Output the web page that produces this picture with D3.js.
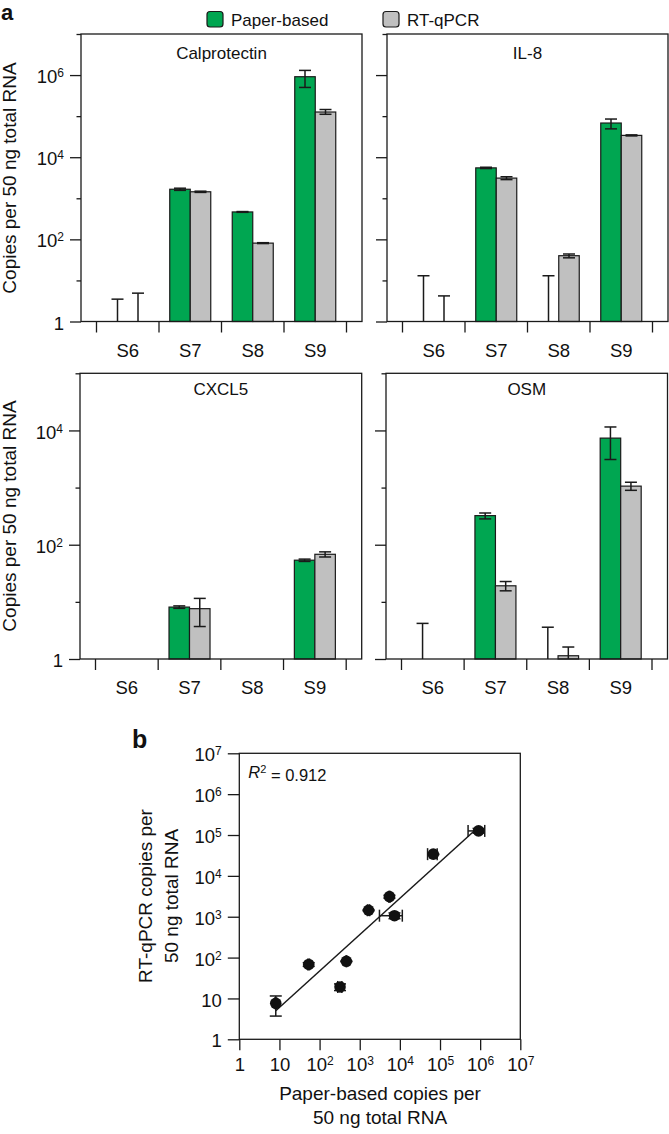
<!DOCTYPE html>
<html><head><meta charset="utf-8">
<script src="https://cdn.jsdelivr.net/npm/d3@7"></script>
<style>
body{margin:0;background:#fff}
svg{display:block}
text{font-family:"Liberation Sans",Arial,Helvetica,sans-serif;fill:#111}
</style>
</head><body>
<svg id="c" width="669" height="1134"></svg>
<script>
// ---------- DATA ----------
const categories = ["S6", "S7", "S8", "S9"];
const series = ["Paper-based", "RT-qPCR"];
const seriesColors = ["#00a651", "#c0c0c0"];

// mean copies (0 = not detected), lower / upper error limits
const calprotectinPaper   = [0, 1660, 465, 912000];
const calprotectinPaperLo = [0, 1560, 455, 500000];
const calprotectinPaperHi = [3.5, 1760, 475, 1300000];
const calprotectinQpcr    = [0, 1440, 81, 126000];
const calprotectinQpcrLo  = [0, 1390, 79, 111000];
const calprotectinQpcrHi  = [4.9, 1490, 83, 145000];

const il8Paper   = [0, 5500, 0, 68000];
const il8PaperLo = [0, 5300, 0, 49000];
const il8PaperHi = [13, 5700, 13, 85000];
const il8Qpcr    = [0, 3100, 40, 34000];
const il8QpcrLo  = [0, 2850, 35.5, 33000];
const il8QpcrHi  = [4.2, 3350, 44, 35000];

const cxcl5Paper   = [0, 8.1, 0, 53.6];
const cxcl5PaperLo = [0, 7.7, 0, 51];
const cxcl5PaperHi = [0, 8.5, 0, 56];
const cxcl5Qpcr    = [0, 7.6, 0, 68];
const cxcl5QpcrLo  = [0, 3.7, 0, 61];
const cxcl5QpcrHi  = [0, 11.5, 0, 75];

const osmPaper   = [0, 323, 0, 7340];
const osmPaperLo = [0, 283, 0, 3100];
const osmPaperHi = [4.2, 359, 3.6, 11500];
const osmQpcr    = [0, 19.1, 1.14, 1060];
const osmQpcrLo  = [0, 15.6, 0, 895];
const osmQpcrHi  = [0, 22.7, 1.62, 1240];

const topTicks = [1, 10, 100, 1e3, 1e4, 1e5, 1e6, 1e7];
const topMajor = [1, 100, 1e4, 1e6];
const bottomTicks = [1, 10, 100, 1e3, 1e4, 1e5];
const bottomMajor = [1, 100, 1e4];
const scatterTicks = [1, 10, 100, 1e3, 1e4, 1e5, 1e6, 1e7];
const r2Text = "0.912";

// ---------- DRAW ----------
const svg = d3.select("#c");
const INK = "#1a1a1a";

function fmtLog(sel) {
  sel.each(function (d) {
    const t = d3.select(this);
    t.text(null);
    const e = Math.round(Math.log10(d));
    if (e === 0) t.text("1");
    else if (e === 1) t.text("10");
    else {
      t.append("tspan").text("10");
      t.append("tspan").attr("dy", "-0.5em").attr("font-size", "12px").text(e);
    }
  });
}

function styleAxis(ax) {
  ax.select(".domain").remove();
  ax.attr("font-family", null).attr("font-size", null).attr("color", INK);
  ax.selectAll(".tick line").attr("stroke-width", 1.3);
  ax.selectAll(".tick text").attr("font-size", "18.5px").attr("fill", "#111");
}

function barPanel(cfg) {
  const g = svg.append("g").attr("transform", `translate(${cfg.left},${cfg.top})`);
  const w = cfg.w, h = cfg.h;
  const y = d3.scaleLog().domain([1, cfg.yMax]).range([h, 0]);
  const x = d3.scaleBand().domain(categories).range([15.5, w - 15.5]);
  const barW = 20.5;
  const sub = d3.scaleBand().domain(series)
    .range([x.bandwidth() / 2 - barW, x.bandwidth() / 2 + barW]);

  const axMinor = g.append("g").call(d3.axisLeft(y).tickValues(cfg.ticks.filter(v => !cfg.major.includes(v)))
    .tickSize(4.5).tickSizeOuter(0).tickFormat(""));
  styleAxis(axMinor);
  const axMajor = g.append("g").call(d3.axisLeft(y).tickValues(cfg.major)
    .tickSize(11).tickSizeOuter(0).tickPadding(6).tickFormat(d => d));
  styleAxis(axMajor);
  axMajor.selectAll(".tick text").attr("dy", "0.41em");
  if (cfg.labels) axMajor.selectAll(".tick text").call(fmtLog);
  else axMajor.selectAll(".tick text").remove();

  const axX = g.append("g").attr("transform", `translate(0,${h})`)
    .call(d3.axisBottom(x).tickSize(0).tickPadding(22).tickSizeOuter(0));
  styleAxis(axX);
  const bounds = categories.map(c => x(c)).concat([x(categories[categories.length - 1]) + x.bandwidth()]);
  g.selectAll(".bnd").data(bounds).join("line")
    .attr("x1", d => d).attr("x2", d => d).attr("y1", h).attr("y2", h + 11)
    .attr("stroke", INK).attr("stroke-width", 1.3);

  const items = [];
  categories.forEach((c, i) => {
    series.forEach((s, k) => {
      const src = cfg.data[k];
      items.push({ c, s, k, mean: src.mean[i], lo: src.lo[i], hi: src.hi[i] });
    });
  });
  g.selectAll(".bar").data(items.filter(d => d.mean > 1)).join("rect")
    .attr("x", d => x(d.c) + sub(d.s))
    .attr("width", sub.bandwidth())
    .attr("y", d => y(d.mean))
    .attr("height", d => h - y(d.mean))
    .attr("fill", d => seriesColors[d.k])
    .attr("stroke", INK).attr("stroke-width", 1.2);

  const cap = 6;
  const errs = items.filter(d => d.hi > 1);
  const eg = g.append("g").attr("stroke", INK).attr("stroke-width", 1.5).attr("fill", "none");
  errs.forEach(d => {
    const cx = x(d.c) + sub(d.s) + sub.bandwidth() / 2;
    const yl = y(Math.max(d.lo, 1)), yh = y(d.hi);
    eg.append("line").attr("x1", cx).attr("x2", cx).attr("y1", yl).attr("y2", yh);
    eg.append("line").attr("x1", cx - cap).attr("x2", cx + cap).attr("y1", yh).attr("y2", yh);
    if (d.lo >= 1) eg.append("line").attr("x1", cx - cap).attr("x2", cx + cap).attr("y1", yl).attr("y2", yl);
  });

  g.append("rect").attr("x", 0).attr("y", 0).attr("width", w).attr("height", h)
    .attr("fill", "none").attr("stroke", INK).attr("stroke-width", 1.3);

  g.append("text").attr("x", w / 2).attr("y", cfg.titleY).attr("text-anchor", "middle")
    .attr("font-size", "17px").text(cfg.title);
}

const pData = (m, lo, hi) => ({ mean: m, lo: lo, hi: hi });

barPanel({ left: 81, top: 34, w: 281, h: 287.5, yMax: 1e7, ticks: topTicks, major: topMajor, labels: true, titleY: 25,
  title: "Calprotectin",
  data: [pData(calprotectinPaper, calprotectinPaperLo, calprotectinPaperHi), pData(calprotectinQpcr, calprotectinQpcrLo, calprotectinQpcrHi)] });
barPanel({ left: 387, top: 34, w: 281, h: 287.5, yMax: 1e7, ticks: topTicks, major: topMajor, labels: false, titleY: 25,
  title: "IL-8",
  data: [pData(il8Paper, il8PaperLo, il8PaperHi), pData(il8Qpcr, il8QpcrLo, il8QpcrHi)] });
barPanel({ left: 80, top: 373.3, w: 281.7, h: 285.7, yMax: 1e5, ticks: bottomTicks, major: bottomMajor, labels: true, titleY: 21.7,
  title: "CXCL5",
  data: [pData(cxcl5Paper, cxcl5PaperLo, cxcl5PaperHi), pData(cxcl5Qpcr, cxcl5QpcrLo, cxcl5QpcrHi)] });
barPanel({ left: 386, top: 373.3, w: 281.5, h: 285.7, yMax: 1e5, ticks: bottomTicks, major: bottomMajor, labels: false, titleY: 21.7,
  title: "OSM",
  data: [pData(osmPaper, osmPaperLo, osmPaperHi), pData(osmQpcr, osmQpcrLo, osmQpcrHi)] });

[178, 516].forEach(cy => {
  svg.append("text").attr("transform", `translate(15.5,${cy}) rotate(-90)`)
    .attr("text-anchor", "middle").attr("font-size", "19px").text("Copies per 50 ng total RNA");
});

const legX = [207, 383];
series.forEach((s, k) => {
  svg.append("rect").attr("x", legX[k]).attr("y", 11.5).attr("width", 16).attr("height", 15.5)
    .attr("rx", 3).attr("fill", seriesColors[k]).attr("stroke", INK).attr("stroke-width", 1.2);
  svg.append("text").attr("x", legX[k] + 24).attr("y", 25.7).attr("font-size", "17px").text(s);
});

svg.append("text").attr("x", 1).attr("y", 20).attr("font-size", "22px").attr("font-weight", "bold").text("a");
svg.append("text").attr("x", 132).attr("y", 748).attr("font-size", "25px").attr("font-weight", "bold").text("b");

// ---------- SCATTER ----------
const sc = { left: 239.3, top: 753.3, w: 281, h: 286 };
const sg = svg.append("g").attr("transform", `translate(${sc.left},${sc.top})`);
const sx = d3.scaleLog().domain([1, 1e7]).range([0, sc.w]);
const sy = d3.scaleLog().domain([1, 1e7]).range([sc.h, 0]);

const axSY = sg.append("g").call(d3.axisLeft(sy).tickValues(scatterTicks).tickSize(11.5).tickSizeOuter(0).tickPadding(6));
styleAxis(axSY);
axSY.selectAll(".tick text").attr("dy", "0.41em").call(fmtLog);
const axSX = sg.append("g").attr("transform", `translate(0,${sc.h})`)
  .call(d3.axisBottom(sx).tickValues(scatterTicks).tickSize(11).tickSizeOuter(0).tickPadding(7.6));
styleAxis(axSX);
axSX.selectAll(".tick text").call(fmtLog);
sg.append("rect").attr("width", sc.w).attr("height", sc.h).attr("fill", "none")
  .attr("stroke", INK).attr("stroke-width", 1.3);

const allPanels = [
  [calprotectinPaper, calprotectinPaperLo, calprotectinPaperHi, calprotectinQpcr, calprotectinQpcrLo, calprotectinQpcrHi],
  [il8Paper, il8PaperLo, il8PaperHi, il8Qpcr, il8QpcrLo, il8QpcrHi],
  [cxcl5Paper, cxcl5PaperLo, cxcl5PaperHi, cxcl5Qpcr, cxcl5QpcrLo, cxcl5QpcrHi],
  [osmPaper, osmPaperLo, osmPaperHi, osmQpcr, osmQpcrLo, osmQpcrHi]
];
const pts = [];
allPanels.forEach(p => {
  categories.forEach((c, i) => {
    if (p[0][i] > 1 && p[3][i] > 1.5) {
      pts.push({ x: p[0][i], xl: p[1][i], xh: p[2][i], y: p[3][i], yl: p[4][i], yh: p[5][i] });
    }
  });
});

const lx = pts.map(d => Math.log10(d.x)), ly = pts.map(d => Math.log10(d.y));
const mx = d3.mean(lx), my = d3.mean(ly);
const slope = d3.sum(lx.map((v, i) => (v - mx) * (ly[i] - my))) / d3.sum(lx.map(v => (v - mx) ** 2));
const icp = my - slope * mx;
const x0 = d3.min(lx), x1 = d3.max(lx);
sg.append("line")
  .attr("x1", sx(10 ** x0)).attr("y1", sy(10 ** (icp + slope * x0)))
  .attr("x2", sx(10 ** x1)).attr("y2", sy(10 ** (icp + slope * x1)))
  .attr("stroke", INK).attr("stroke-width", 1.5);

const eg2 = sg.append("g").attr("stroke", INK).attr("stroke-width", 1.5);
const c2 = 6;
pts.forEach(d => {
  const px = sx(d.x), py = sy(d.y);
  const ax = sx(d.xl), bx = sx(d.xh), ay = sy(d.yl), by = sy(d.yh);
  eg2.append("line").attr("x1", ax).attr("x2", bx).attr("y1", py).attr("y2", py);
  eg2.append("line").attr("x1", ax).attr("x2", ax).attr("y1", py - c2).attr("y2", py + c2);
  eg2.append("line").attr("x1", bx).attr("x2", bx).attr("y1", py - c2).attr("y2", py + c2);
  eg2.append("line").attr("x1", px).attr("x2", px).attr("y1", ay).attr("y2", by);
  eg2.append("line").attr("x1", px - c2).attr("x2", px + c2).attr("y1", ay).attr("y2", ay);
  eg2.append("line").attr("x1", px - c2).attr("x2", px + c2).attr("y1", by).attr("y2", by);
});
sg.selectAll(".pt").data(pts).join("circle")
  .attr("cx", d => sx(d.x)).attr("cy", d => sy(d.y)).attr("r", 5.8).attr("fill", "#111");

const rt = sg.append("text").attr("x", 9).attr("y", 25).attr("font-size", "16.5px");
rt.append("tspan").attr("font-style", "italic").text("R");
rt.append("tspan").attr("dy", "-0.5em").attr("font-size", "11px").text("2");
rt.append("tspan").attr("dy", "0.5em").text(" = " + r2Text);

svg.append("text").attr("x", 380).attr("y", 1100).attr("text-anchor", "middle").attr("font-size", "19px").text("Paper-based copies per");
svg.append("text").attr("x", 380).attr("y", 1124).attr("text-anchor", "middle").attr("font-size", "19px").text("50 ng total RNA");
svg.append("text").attr("transform", "translate(152,896) rotate(-90)").attr("text-anchor", "middle").attr("font-size", "19px").text("RT-qPCR copies per");
svg.append("text").attr("transform", "translate(178,896) rotate(-90)").attr("text-anchor", "middle").attr("font-size", "19px").text("50 ng total RNA");
</script>
</body></html>
